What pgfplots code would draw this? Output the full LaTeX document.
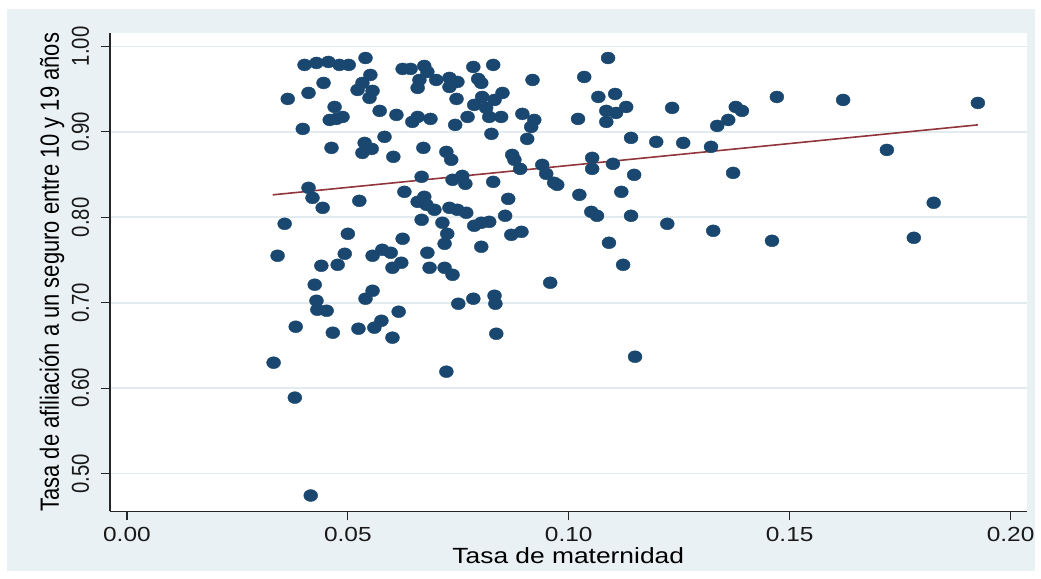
\documentclass[border=0pt]{standalone}
\usepackage{fontspec}
\setmainfont{Liberation Sans}
\newfontfamily\hfont[FakeStretch=1.2]{Liberation Sans}
\usepackage{graphicx}
\usepackage{pgfplots}
\pgfplotsset{compat=1.18}
\definecolor{stbg}{RGB}{234,241,244}
\definecolor{stgrid}{RGB}{226,235,238}
\definecolor{stnavy}{RGB}{26,71,111}
\definecolor{stmaroon}{RGB}{144,53,59}
\newcommand\vs[1]{\scalebox{1}[1.2]{#1}}

\begin{document}
\begin{tikzpicture}[x=1bp,y=1bp]
\path (-55,-33.5) rectangle (465.5,256);
\fill[stbg] (-51.5,-30) rectangle (463,251.5);
\begin{axis}[
  at={(0,0)}, anchor=south west,
  scale only axis, width=459bp, height=239.5bp,
  xmin=-0.003865, xmax=0.20364, ymin=0.4558, ymax=1.0158,
  axis x line*=bottom, axis y line*=left,
  axis line style={line width=0.7bp, black!85},
  axis background/.style={fill=white},
  xtick={0,0.05,0.1,0.15,0.2},
  xticklabels={0.00,0.05,0.10,0.15,0.20},
  ytick={0.5,0.6,0.7,0.8,0.9,1.0},
  yticklabels={\vs{0.50},\vs{0.60},\vs{0.70},\vs{0.80},\vs{0.90},\vs{1.00}},
  tick align=outside, major tick length=4.5bp,
  tick style={line width=0.6bp, black!85},
  ymajorgrids, grid style={stgrid, line width=0.9bp},
  xticklabel style={font=\hfont\fontsize{10.2bp}{12bp}\selectfont, text=black!90},
  yticklabel style={font=\fontsize{10.2bp}{12bp}\selectfont, text=black!90, rotate=90, anchor=base},
  yticklabel shift=6bp,
  xlabel={Tasa de maternidad},
  xlabel style={font=\hfont\fontsize{11bp}{13bp}\selectfont, at={([yshift=-26bp]axis description cs:0.5,0)}, anchor=base},
  ylabel={\vs{Tasa de afiliación a un seguro entre 10 y 19 años}},
  ylabel style={font=\fontsize{11bp}{13bp}\selectfont, at={([xshift=-25.5bp]axis description cs:0,0.5)}, anchor=base},
]
\addplot[only marks, mark=*, mark size=3pt, mark options={xscale=1.17, fill=stnavy, draw=stnavy, line width=0.2bp}] coordinates {
(0.0402,0.9784) (0.0429,0.9807) (0.0456,0.9819) (0.0481,0.9784) (0.0502,0.9784)
(0.0540,0.9865) (0.0624,0.9737) (0.0642,0.9737) (0.0673,0.9772) (0.0680,0.9702)
(0.0784,0.9760) (0.0829,0.9784) (0.1089,0.9865) (0.0551,0.9667) (0.0662,0.9608)
(0.0658,0.9515) (0.0700,0.9608) (0.0730,0.9632) (0.0748,0.9585) (0.0730,0.9526)
(0.0746,0.9386) (0.0795,0.9620) (0.0802,0.9573) (0.0918,0.9608) (0.1035,0.9643)
(0.0533,0.9573) (0.0522,0.9491) (0.0556,0.9480) (0.0549,0.9398) (0.0445,0.9573)
(0.0411,0.9456) (0.0364,0.9386) (0.1105,0.9444) (0.1067,0.9409) (0.1471,0.9409)
(0.1621,0.9374) (0.1926,0.9339) (0.0804,0.9409) (0.0850,0.9456) (0.0832,0.9374)
(0.0786,0.9316) (0.0813,0.9281) (0.0771,0.9175) (0.0820,0.9175) (0.0847,0.9175)
(0.0895,0.9211) (0.0922,0.9140) (0.0915,0.9058) (0.0470,0.9292) (0.0459,0.9140)
(0.0488,0.9175) (0.0474,0.9152) (0.0572,0.9246) (0.0610,0.9199) (0.0646,0.9117)
(0.0658,0.9175) (0.0687,0.9152) (0.0743,0.9082) (0.0398,0.9035) (0.1130,0.9292)
(0.1085,0.9246) (0.1107,0.9222) (0.1085,0.9117) (0.1021,0.9152) (0.1234,0.9281)
(0.1378,0.9292) (0.1392,0.9246) (0.1361,0.9140) (0.1336,0.9070)
(0.0825,0.8977) (0.0906,0.8918) (0.1141,0.8930) (0.1198,0.8883) (0.1259,0.8871)
(0.1322,0.8825) (0.1720,0.8789) (0.0583,0.8942) (0.0538,0.8871) (0.0463,0.8813)
(0.0554,0.8801) (0.0533,0.8754) (0.0603,0.8708) (0.0671,0.8813) (0.0723,0.8766)
(0.0734,0.8673) (0.0872,0.8731) (0.0890,0.8567) (0.0940,0.8614) (0.0949,0.8509)
(0.0967,0.8404) (0.0974,0.8380) (0.1053,0.8696) (0.1053,0.8567) (0.1100,0.8626)
(0.1148,0.8497) (0.1372,0.8520) (0.0877,0.8673)
(0.0667,0.8474) (0.0737,0.8439) (0.0759,0.8485) (0.0766,0.8392) (0.0829,0.8415)
(0.0628,0.8298) (0.0411,0.8345) (0.0420,0.8228) (0.0443,0.8111) (0.0526,0.8193)
(0.0673,0.8240) (0.0658,0.8181) (0.0678,0.8146) (0.0863,0.8216) (0.1024,0.8263)
(0.1119,0.8298) (0.1826,0.8170)
(0.0696,0.8088) (0.0730,0.8111) (0.0748,0.8088) (0.0768,0.8053) (0.0856,0.8018)
(0.1051,0.8064) (0.1064,0.8018) (0.1141,0.8018) (0.1223,0.7924) (0.1327,0.7842)
(0.1460,0.7725) (0.1781,0.7760) (0.0667,0.7971) (0.0714,0.7936) (0.0786,0.7901)
(0.0802,0.7936) (0.0820,0.7947) (0.0357,0.7924) (0.0500,0.7807) (0.0624,0.7749)
(0.0725,0.7807) (0.0719,0.7690) (0.0802,0.7655) (0.0870,0.7795) (0.0893,0.7830)
(0.1091,0.7702)
(0.0680,0.7585) (0.0621,0.7468) (0.0685,0.7409) (0.0719,0.7409) (0.0737,0.7327)
(0.0341,0.7550) (0.0493,0.7573) (0.0477,0.7444) (0.0440,0.7433) (0.0556,0.7550)
(0.0578,0.7620) (0.0597,0.7585) (0.0601,0.7409) (0.1123,0.7444) (0.0958,0.7234)
(0.0425,0.7211) (0.0429,0.7023) (0.0431,0.6918) (0.0452,0.6906) (0.0556,0.7140)
(0.0540,0.7047) (0.0615,0.6895) (0.0576,0.6789) (0.0560,0.6708) (0.0524,0.6696)
(0.0601,0.6591) (0.0382,0.6719) (0.0466,0.6649) (0.0750,0.6988) (0.0784,0.7047)
(0.0832,0.7082) (0.0834,0.6988) (0.0836,0.6637)
(0.0332,0.6298) (0.0723,0.6193) (0.1150,0.6368) (0.0380,0.5889) (0.0416,0.4743)
};
\addplot[stmaroon, line width=0.8bp] coordinates {(0.0330,0.8263) (0.1926,0.9082)};
\end{axis}
\end{tikzpicture}
\end{document}
